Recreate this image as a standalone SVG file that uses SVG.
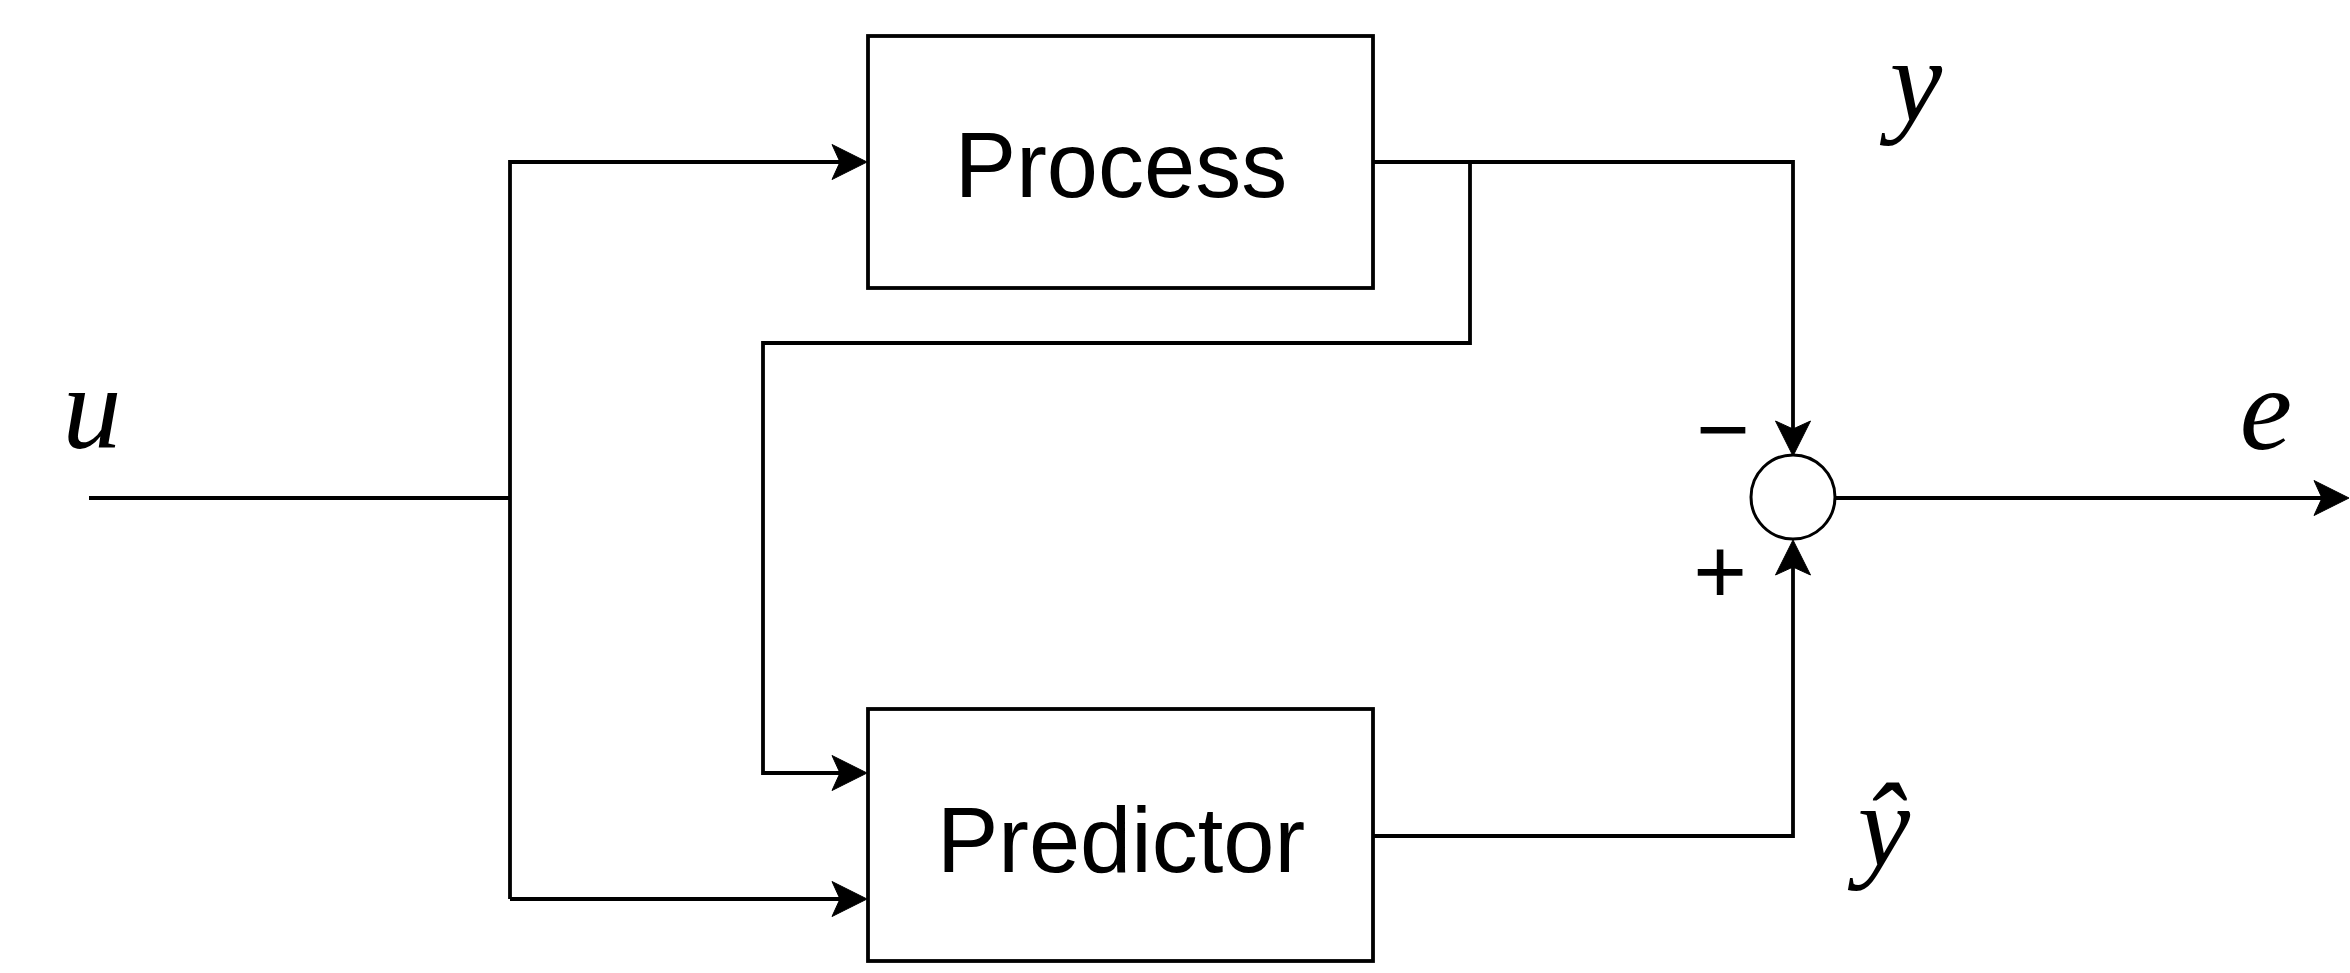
<svg xmlns="http://www.w3.org/2000/svg" width="2350" height="973" viewBox="0 0 2350 973">
  <style>
    .box { fill: #ffffff; stroke: #000000; stroke-width: 3.8; }
    .sum { fill: #ffffff; stroke: #000000; stroke-width: 3; }
    .wire { fill: none; stroke: #000000; stroke-width: 3.8; }
    .lbl { font-family: "Liberation Sans", Arial, sans-serif; font-size: 92px; fill: #000000; text-anchor: middle; }
    .math { font-family: "Liberation Serif", "Times New Roman", serif; font-style: italic; font-size: 118px; fill: #000000; text-anchor: middle; }
    .sign { font-family: "Liberation Sans", Arial, sans-serif; font-size: 92px; fill: #000000; text-anchor: middle; }
  </style>
  <defs>
    <marker id="arr" markerUnits="userSpaceOnUse" markerWidth="44" markerHeight="40" viewBox="-34 -20 44 40" refX="0" refY="0" orient="auto">
      <path d="M6,0 L-29,-17.5 L-21,0 L-29,17.5 Z" fill="#000000" stroke="#000000" stroke-width="1" stroke-linejoin="miter"/>
    </marker>
  </defs>
  <rect width="2350" height="973" fill="#ffffff"/>
  <g id="connectors">
    <path class="wire" d="M89,498 H510"/>
    <path class="wire" d="M510,899 V162 H861" marker-end="url(#arr)"/>
    <path class="wire" d="M510,899 H861" marker-end="url(#arr)"/>
    <path class="wire" d="M1373,162 H1793 V450" marker-end="url(#arr)"/>
    <path class="wire" d="M1470,162 V343 H763 V773 H861" marker-end="url(#arr)"/>
    <path class="wire" d="M1373,836 H1793 V546" marker-end="url(#arr)"/>
    <path class="wire" d="M1835,498 H2343" marker-end="url(#arr)"/>
  </g>
  <g id="process">
    <rect class="box" x="868" y="36" width="505" height="252"/>
    <text class="lbl" x="1121" y="197">Process</text>
  </g>
  <g id="predictor">
    <rect class="box" x="868" y="709" width="505" height="252"/>
    <text class="lbl" x="1121" y="872">Predictor</text>
  </g>
  <g id="sum">
    <circle class="sum" cx="1793" cy="497" r="42"/>
    <text class="sign" x="1723" y="461">−</text>
    <text class="sign" x="1720" y="603">+</text>
  </g>
  <g id="labels">
    <text class="math" x="92" y="448">u</text>
    <text class="math" x="1916" y="121">y</text>
    <text class="math" x="1884" y="866">ŷ</text>
    <text class="math" x="2266" y="449">e</text>
  </g>
</svg>
